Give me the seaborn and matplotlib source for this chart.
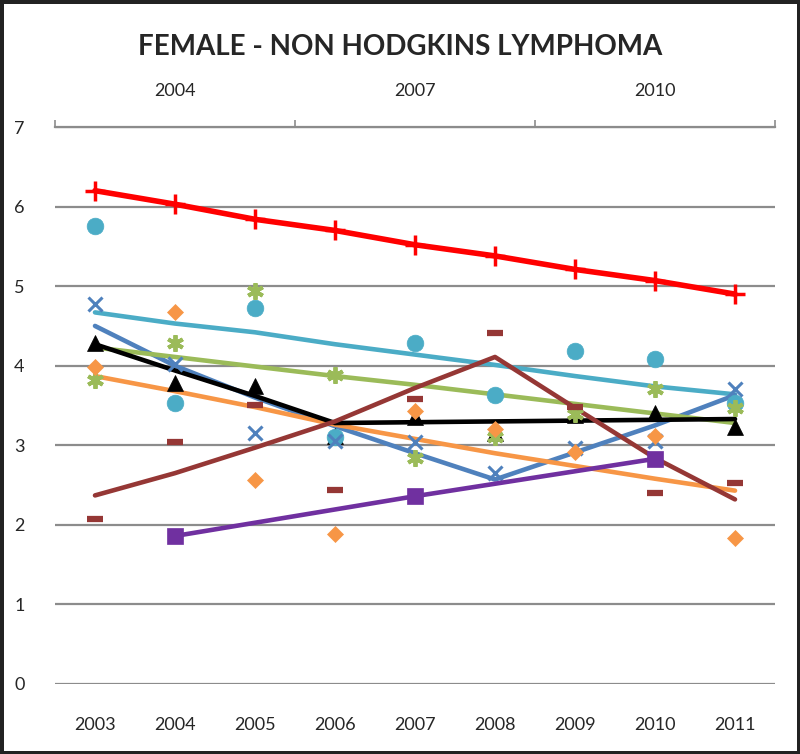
#Grafico de lineas: FEMALE - NON HODGKINS LYMPHOMA
import matplotlib
matplotlib.use("Agg")
import matplotlib.pyplot as plt
import seaborn as sns
import numpy as np

years = [2003, 2004, 2005, 2006, 2007, 2008, 2009, 2010, 2011]
top_years = [2004, 2007, 2010]

# puntos (solo marcadores)
red_pts = [6.20, 6.03, 5.84, 5.70, 5.52, 5.38, 5.21, 5.07, 4.90]
cyan_pts = [5.76, 3.53, 4.72, 3.11, 4.28, 3.63, 4.18, 4.09, 3.53]
blue_pts = [4.77, 4.02, 3.16, 3.05, 3.04, 2.65, 2.97, 3.05, 3.71]
green_pts = [3.82, 4.29, 4.94, 3.88, 2.84, 3.11, 3.39, 3.71, 3.47]
orange_pts = [3.98, 4.68, 2.56, 1.89, 3.43, 3.21, 2.92, 3.12, 1.83]
black_pts = [4.29, 3.78, 3.75, 3.12, 3.35, 3.16, 3.38, 3.40, 3.23]
brown_pts = [2.07, 3.04, 3.51, 2.44, 3.58, 4.41, 3.48, 2.40, 2.53]
purple_pts = [1.86, 2.36, 2.83]

# lineas de tendencia
cyan_trend = [4.67, 4.53, 4.42, 4.27, 4.14, 4.01, 3.87, 3.74, 3.64]
blue_trend = [4.50, 4.00, 3.60, 3.24, 2.90, 2.57, 2.91, 3.25, 3.63]
green_trend = [4.23, 4.11, 3.99, 3.87, 3.76, 3.64, 3.52, 3.40, 3.28]
orange_trend = [3.87, 3.68, 3.48, 3.26, 3.08, 2.90, 2.74, 2.58, 2.43]
black_trend = [4.27, 3.94, 3.62, 3.28, 3.29, 3.30, 3.31, 3.32, 3.33]
brown_trend = [2.37, 2.65, 2.97, 3.30, 3.72, 4.11, 3.47, 2.84, 2.32]

sns.set_style("white")
plt.rcParams["font.family"] = ["Lato", "DejaVu Sans"]

fig = plt.figure(figsize=(8, 7.54), dpi=100)
fig.patch.set_edgecolor("#222222")
fig.patch.set_linewidth(5)
ax = fig.add_axes([55/800, 70/754, 720/800, 557/754])

for v in range(0, 8):
    ax.axhline(v, color="#8c8c8c", lw=1.6, zorder=0)

lw = 3.3
sns.lineplot(x=years, y=cyan_trend, color="#4BACC6", lw=lw, ax=ax)
sns.lineplot(x=years, y=blue_trend, color="#4F81BD", lw=lw, ax=ax)
sns.lineplot(x=years, y=green_trend, color="#9BBB59", lw=lw, ax=ax)
sns.lineplot(x=years, y=orange_trend, color="#F79646", lw=lw, ax=ax)
sns.lineplot(x=years, y=black_trend, color="black", lw=lw, ax=ax)
sns.lineplot(x=years, y=brown_trend, color="#953735", lw=lw, ax=ax)


def points(y, color, marker, size, mew):
    sns.lineplot(x=years, y=y, color=color, marker=marker, markersize=size,
                 mew=mew, mec=color, mfc=color, linestyle="none", ax=ax)


points(black_pts, "black", "^", 11, 0.5)
points(cyan_pts, "#4BACC6", "o", 12, 0.5)
points(blue_pts, "#4F81BD", "x", 10, 2.2)
points(green_pts, "#9BBB59", (6, 2, 0), 12, 2.8)
points(orange_pts, "#F79646", "D", 8, 0.5)
points(brown_pts, "#953735", "_", 12, 4.5)

sns.lineplot(x=top_years, y=purple_pts, color="#7030A0", lw=lw, marker="s",
             markersize=11, mew=0.5, mec="#7030A0", ax=ax)
sns.lineplot(x=years, y=red_pts, color="#FF0000", lw=4, marker="+",
             markersize=14, mew=2.5, mec="#FF0000", ax=ax)

ax.set_xlim(2002.5, 2011.5)
ax.set_ylim(0, 7)
ax.set_xticks(years)
ax.set_xticklabels([str(y) for y in years], fontsize=13)
ax.set_yticks(range(0, 8))
ax.set_yticklabels([str(v) for v in range(0, 8)], fontsize=13)
ax.tick_params(axis="x", length=0, pad=24)
ax.tick_params(axis="y", length=0, pad=22)
for s in ax.spines.values():
    s.set_visible(False)
ax.set_xlabel("")
ax.set_ylabel("")

# eje secundario superior
sec = ax.secondary_xaxis("top")
sec.set_xticks([2002.5, 2005.5, 2008.5, 2011.5])
sec.set_xticklabels(["", "", "", ""])
sec.set_xticks(top_years, minor=True)
sec.set_xticklabels([str(y) for y in top_years], minor=True, fontsize=13)
sec.tick_params(axis="x", which="major", length=5, width=1.2, color="#8c8c8c")
sec.tick_params(axis="x", which="minor", length=0, pad=20)
sec.spines["top"].set_color("#8c8c8c")
sec.spines["top"].set_linewidth(1.6)

fig.suptitle("FEMALE - NON HODGKINS LYMPHOMA", fontsize=20, fontweight="bold", y=0.955)

plt.savefig("out.png", dpi=100, edgecolor=fig.get_edgecolor())
